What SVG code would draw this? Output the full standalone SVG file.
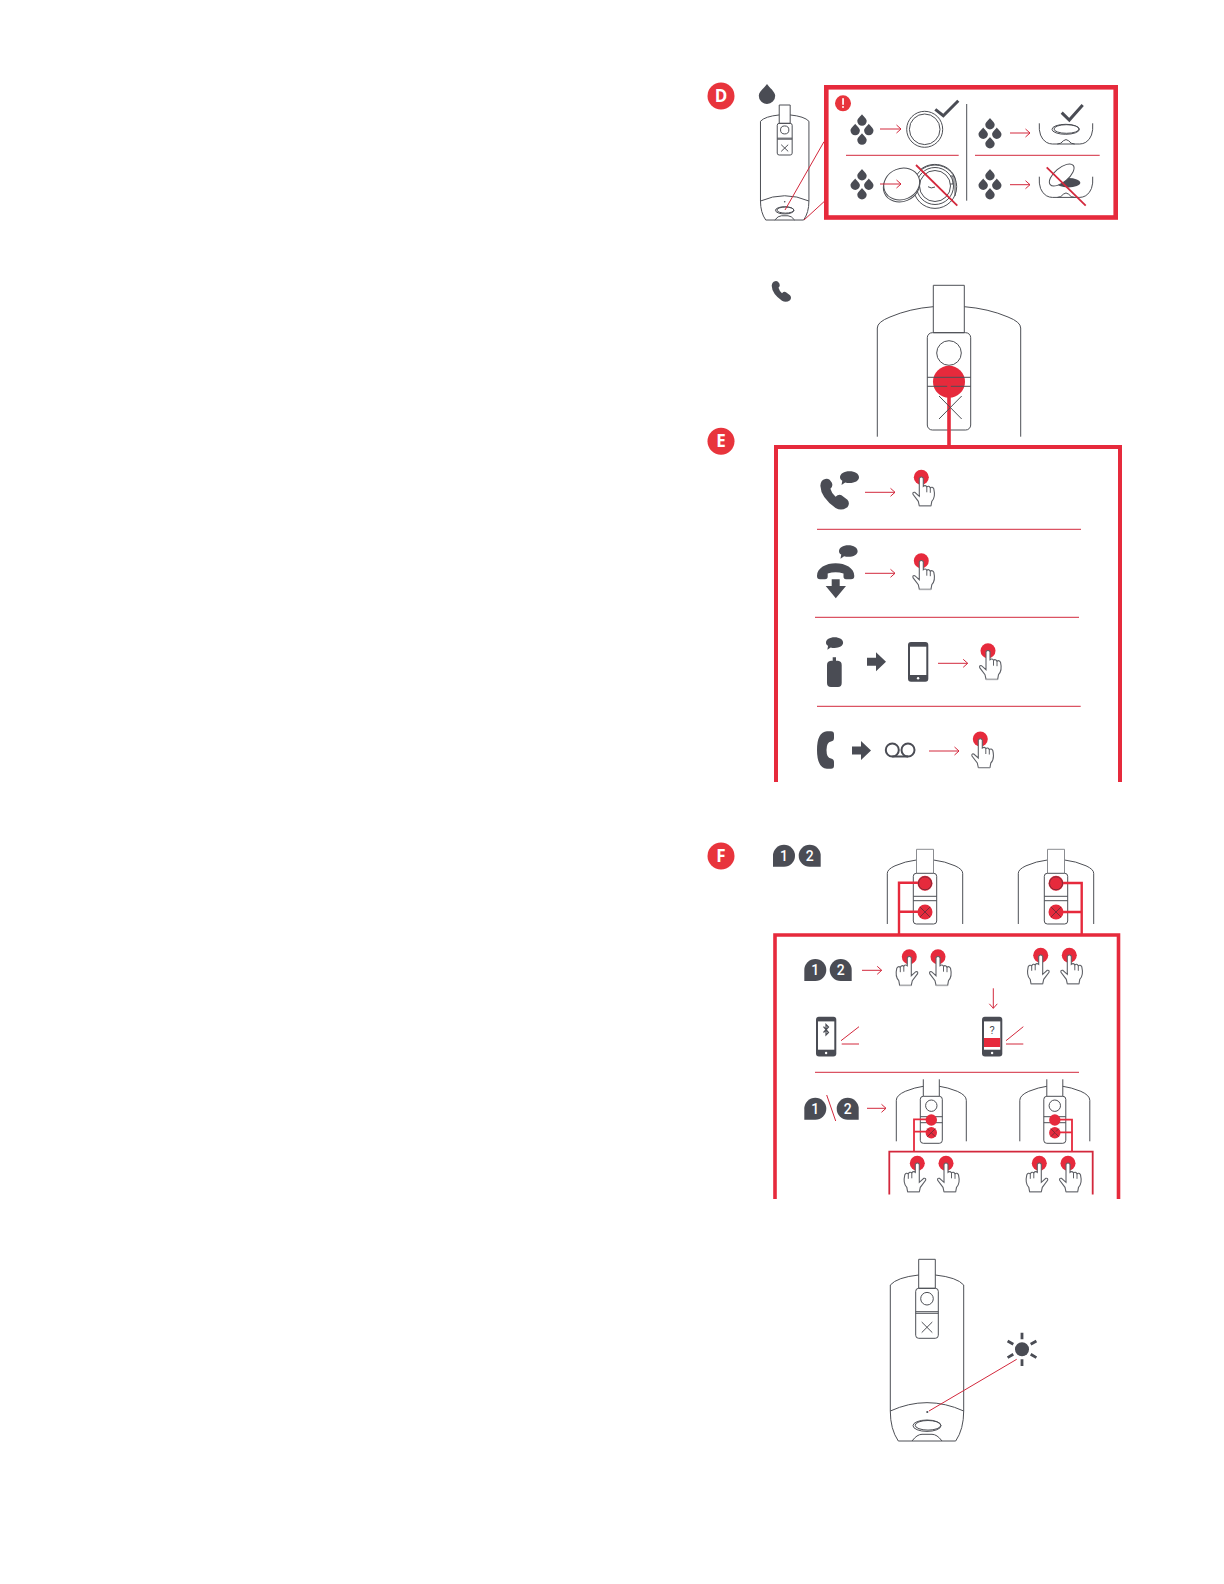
<svg xmlns="http://www.w3.org/2000/svg" width="1224" height="1584" viewBox="0 0 1224 1584">
<style>
.ln{fill:none;stroke:#4d4f55;stroke-width:1;vector-effect:non-scaling-stroke}
.xr{fill:none;stroke:#7c2a38;stroke-width:1;vector-effect:non-scaling-stroke}
.df{fill:#4a4c54}
.rf{fill:#e62a3c}
.box{fill:none;stroke:#e62a3c;stroke-width:4}
.rl{fill:none;stroke:#d3283c;stroke-width:1}
.arr{fill:none;stroke:#d3283c;stroke-width:1;marker-end:url(#ah)}
.cross{fill:none;stroke:#d3283c;stroke-width:1.8}
.conn{fill:none;stroke:#e62a3c;stroke-width:2.4}
.bdg{fill:#e8343c}
.bt{font-family:"Open Sans","Liberation Sans",sans-serif;font-weight:700;font-size:17px;fill:#fff;text-anchor:middle}
.nt{font-family:Roboto,"Liberation Sans",sans-serif;font-weight:500;font-size:14px;fill:#fff;text-anchor:middle}
.wh{fill:#fff}
</style>
<defs>
<marker id="ah" viewBox="-6 -5 7 10" refX="0" refY="0" markerWidth="7" markerHeight="10" markerUnits="userSpaceOnUse" orient="auto"><path d="M-4.5 -4 L0 0 L-4.5 4" fill="none" stroke="#d3283c" stroke-width="1"/></marker>
<path id="drop" d="M0 -5.5C1.2 -3.5 4.7 -1.200 4.700 1.300A4.700 4.700 0 0 1 -4.700 1.300C-4.700 -1.200 -1.200 -3.500 0 -5.500Z"/>
<g id="drops" class="df"><use href="#drop" x="0" y="-9.500"/><use href="#drop" x="-6.800" y="0"/><use href="#drop" x="6.800" y="0"/><use href="#drop" x="0" y="9.500"/></g>
<path id="handset" d="M4 .5Q1 1 .7 5Q1 13 11 20Q15 22.500 19 19.500Q21 17 19 14.500L15 11.500Q13 10.500 11 12.500Q8.500 10.500 7.500 7Q9.500 5.500 8.500 3L7 1Q5.500 0 4 .5Z"/>
<path id="bubble" d="M9.500 0C15 0 19 2.600 19 6C19 9.400 15 11.800 9.500 11.800C8 11.800 6.500 11.600 5.200 11.200L1.500 13.700L2.300 9.500C.8 8.600 0 7.400 0 6C0 2.600 4 0 9.500 0Z"/>
<path id="block" d="M0 5.500H9V0L19 9.500L9 19V13.500H0Z"/>
<g id="hand"><circle r="7.500" class="rf"/><path d="M-2 28.500L-3 24L-8.300 17Q-9 14.500-6.500 15L-2 19V1Q0-1.500 2 1V9Q4 7.500 5.500 9.500Q7.500 8 9 10.500Q11 9 12.500 11.500Q14.500 20 10.500 24L9.700 28.500Z" fill="#fff" stroke="#5e6066" stroke-width="1.100"/><path d="M5.500 9.500V15M9 10.500V15.500" fill="none" stroke="#5e6066" stroke-width="1"/><path d="M-2 29H9.700" stroke="#b4b5b8" stroke-width="1" fill="none"/></g>
<g id="phone"><rect width="20.300" height="39.700" rx="3" class="df"/><rect x="2" y="4.700" width="16.300" height="28.300" class="wh"/><circle cx="10.100" cy="36.300" r="1.200" class="wh"/></g>
<g id="fulldev">
<path class="ln" d="M-8.300 15.700Q-30 18-36.700 25.700V151.700Q-36.700 170-28.700 181.700H28.700Q36.700 170 36.700 151.700V25.700Q30 18 8.300 15.700"/>
<rect class="ln" x="-8.300" y="0" width="16.600" height="29"/>
<rect class="ln" x="-11.300" y="29" width="22.600" height="50" rx="3"/>
<path class="ln" d="M-11.300 52.400H11.300M-11.300 54H11.300"/>
<circle class="ln" cy="39.400" r="6.300"/>
<path class="ln" d="M-5.300 62.700L5.300 73.300M5.300 62.700L-5.300 73.300"/>
<path class="ln" d="M-36.700 151.700Q0 135 36.700 151.700"/>
<ellipse class="ln" cy="166.400" rx="14" ry="5.700"/>
<ellipse class="ln" cx="1" cy="166" rx="12.800" ry="4.800"/>
<path class="ln" d="M-15 181.700Q-10 175-5 175H5Q10 175 15 181.700"/>
</g>
<g id="devf">
<path class="ln" d="M-37.700 74.700V24Q-37.700 20-30 16.500Q-20 12-8.500 10.700M8.500 10.700Q20 12 30 16.500Q37.700 20 37.700 24V74.700"/>
<path class="ln" d="M-8.500 24V0H8.500V24" style="stroke:#8a8c90"/>
<rect class="ln" x="-11.700" y="24" width="23.400" height="50.700" rx="3"/>
<path class="ln" d="M-11.700 47H11.700M-11.700 51.400H11.700"/>
<circle class="rf" cy="34" r="7.500"/><circle class="rf" cy="62.700" r="7.500"/>
<circle class="xr" cy="34" r="6.500"/>
<path class="xr" d="M-5 57.700L5 67.700M5 57.700L-5 67.700"/>
</g>
<g id="devg">
<path class="ln" d="M-35 62V21Q-35 16-26 12Q-16 8-8 7M8 7Q16 8 26 12Q35 16 35 21V62"/>
<path class="ln" d="M-8 17V0M8 17V0"/>
<rect class="ln" x="-11" y="17" width="22" height="47" rx="3"/>
<circle class="ln" cy="26.400" r="5.700"/>
<path class="ln" d="M-11 37.400H11M-11 43.400H11"/>
<circle class="rf" cy="40.700" r="5.700"/><circle class="rf" cy="53.400" r="5.700"/>
<path class="xr" d="M-4 49.400L4 57.400M4 49.400L-4 57.400"/>
</g>
<g id="dish">
<path class="ln" d="M0 0Q-1 14 7 19Q10 20.700 13 20.700H40.500Q43.500 20.700 46.500 19Q54.400 14 53.400 0"/>
<path class="ln" d="M18 20.700Q22 20.700 24 17.500Q26.700 15 29.400 17.500Q31.400 20.700 35.400 20.700"/>
</g>
<g id="badge1"><path class="df" d="M11 0A11 11 0 0 1 11 22H0V11A11 11 0 0 1 11 0Z"/><text x="11" y="16" class="nt">1</text></g>
<g id="badge2"><path class="df" d="M11 0A11 11 0 0 0 11 22H22V11A11 11 0 0 0 11 0Z"/><text x="11" y="16" class="nt">2</text></g>
</defs>
<rect width="1224" height="1584" fill="#fff"/>

<g id="section-d">
<g id="badge-d"><circle cx="721" cy="96" r="13.500" class="bdg"/><text x="721" y="102" class="bt">D</text></g>
<g id="drop-d"><use href="#drop" class="df" transform="translate(767 93.500) scale(1.750)"/></g>
<g id="device-d"><use href="#fulldev" transform="translate(784.700 105) scale(.66 .633)"/><circle cx="784.700" cy="201.700" r=".8" class="df"/></g>
<rect id="box-d" x="826.300" y="87.300" width="289.400" height="130.200" fill="none" stroke="#e62a3c" stroke-width="4.600"/>
<g id="alert"><circle cx="843" cy="103.300" r="8" class="bdg"/><rect x="842.200" y="98.200" width="1.700" height="6.600" class="wh"/><circle cx="843" cy="107" r="1" class="wh"/></g>
<path id="divider" d="M966.700 104V200.700" fill="none" stroke="#4d4f55" stroke-width="1"/>
<path id="seps-d" class="rl" d="M846 155.300H958.700M975 155.300H1099.700"/>
<g id="ok-ring"><use href="#drops" x="862" y="129.300"/><circle cx="924.700" cy="129.300" r="18" class="ln"/><circle cx="924.700" cy="129.300" r="15.300" class="ln"/><path d="M935.300 109.300L943.300 115.700L958.300 100.700" fill="none" stroke="#4a4c54" stroke-width="3"/></g>
<g id="ok-dish"><use href="#drops" x="990" y="133"/><use href="#dish" transform="translate(1039.300 123.300)"/><ellipse cx="1065.700" cy="129.300" rx="13.700" ry="5" class="ln"/><ellipse cx="1066.500" cy="129" rx="12.500" ry="4.300" class="ln"/><path d="M1061.700 112.700L1069.300 120L1082.700 105" fill="none" stroke="#4a4c54" stroke-width="3"/></g>
<g id="no-ring"><use href="#drops" x="862" y="184"/><circle cx="935" cy="186.700" r="21.700" class="ln"/><path class="ln" d="M920 170A21 19 0 0 1 955 178M955 178V196"/><circle cx="935" cy="186" r="18.500" class="ln"/><circle cx="935" cy="186" r="15.500" class="ln"/><path class="ln" d="M928 186.700Q931 189 935 187"/><path class="ln" d="M950 176H953V184H950"/><ellipse cx="901.500" cy="186" rx="18.500" ry="15.500" transform="rotate(-22 901.500 186)" fill="#fff" stroke="#4d4f55" stroke-width="1"/><ellipse cx="901.700" cy="184" rx="18.300" ry="15.500" transform="rotate(-22 901.700 184)" fill="#fff" stroke="#4d4f55" stroke-width="1"/><path class="cross" d="M916 165L957.300 205.700"/></g>
<g id="no-dish"><use href="#drops" x="990" y="184"/><use href="#dish" transform="translate(1039.300 176.700)"/><ellipse cx="1068.300" cy="182.700" rx="12" ry="4.700" class="df"/><ellipse cx="1061.700" cy="175" rx="15" ry="7" transform="rotate(-40 1061.700 175)" fill="#fff" stroke="#4d4f55" stroke-width="1"/><path class="cross" d="M1046.700 167.300L1085.700 205.700"/></g>
</g>

<g id="section-e">
<g id="badge-e"><circle cx="721" cy="441.300" r="13.500" class="bdg"/><text x="721" y="447.400" class="bt">E</text></g>
<g id="phone-e"><use href="#handset" class="df" x="771" y="280.700"/></g>
<g id="device-e">
<path class="ln" d="M877.300 436.700V328Q877.300 322 890 317Q910 308.500 933.300 306.700M964.300 306.700Q988 308.500 1008 317Q1020.700 322 1020.700 328V436.700"/>
<rect class="ln" x="933.300" y="285.300" width="31" height="47.400"/>
<rect class="ln" x="927.300" y="332.700" width="43.400" height="97.300" rx="5"/>
<circle class="ln" cx="949" cy="353" r="12.300"/>
<circle class="rf" cx="949" cy="381.700" r="16"/>
<path class="ln" d="M927.300 377.300H970.700M927.300 386.300H970.700"/>
</g>
<path id="box-e" class="box" d="M776 782V447H1120V782"/>
<g id="row-incoming"><use href="#handset" class="df" transform="translate(819.300 478.300) scale(1.480)"/><use href="#bubble" class="df" x="840" y="471.300"/><use href="#hand" x="921.300" y="477.300"/></g>
<path class="rl" d="M817 529.300H1081"/>
<g id="row-hangup"><path class="df" d="M817 576C817 568 826 563.300 835.600 563.300C845.300 563.300 854.300 568 854.300 576Q854.300 579.300 851 579.300H846Q843.500 579.300 843.500 576.500V573.500Q835.600 571 827.700 573.500V576.500Q827.700 579.300 825 579.300H820Q817 579.300 817 576Z"/><path class="df" d="M831.700 579.300H839.700V586H846L835.800 598.300L825.700 586H831.700Z"/><use href="#bubble" class="df" transform="translate(839 545.300) scale(.98)"/><use href="#hand" x="921.300" y="560.700"/></g>
<path class="rl" d="M815 617.300H1079"/>
<g id="row-transfer"><use href="#bubble" class="df" transform="translate(826 637.300) scale(.9)"/><path class="df" d="M832.700 660.700V657.300H836V660.700H838Q841.700 661 841.700 665V683Q841.700 687 838 687H831Q827 687 827 683V665Q827 661 831 660.700Z"/><use href="#block" class="df" x="867" y="652.300"/><use href="#phone" x="908" y="642"/><use href="#hand" x="988" y="650.700"/></g>
<path class="rl" d="M817 706.300H1080.700"/>
<g id="row-voicemail"><path class="df" d="M827 731.300H831Q834 731.300 834 734.500V738Q834 741 831 741.500Q826.500 742 826.500 750Q826.500 758 831 758.500Q834 759 834 762V765.500Q834 768.700 831 768.700H827Q817 768 817 750Q817 732 827 731.300Z"/><use href="#block" class="df" x="852" y="741"/><path d="M892.300 756.500H908" fill="none" stroke="#4a4c54" stroke-width="2"/><circle cx="892.300" cy="750" r="6.500" fill="none" stroke="#4a4c54" stroke-width="2"/><circle cx="908" cy="750" r="6.500" fill="none" stroke="#4a4c54" stroke-width="2"/><use href="#hand" x="980.300" y="739"/></g>
</g>

<g id="section-f">
<g id="badge-f"><circle cx="721" cy="856" r="13.500" class="bdg"/><text x="721" y="862.100" class="bt">F</text></g>
<g id="pair-top"><use href="#badge1" x="773" y="844.700"/><use href="#badge2" x="798.700" y="844.700"/></g>
<g id="device-f1"><use href="#devf" transform="translate(925 849.300)"/></g>
<g id="device-f2"><use href="#devf" transform="translate(1056 849.300)"/></g>
<path id="box-f" class="box" style="stroke-width:3.600" d="M775 1199V935H1118.500V1199"/>
<g id="pair-a"><use href="#badge1" x="804.300" y="959"/><use href="#badge2" x="829.700" y="959"/></g>
<g id="hands-a"><use href="#hand" transform="translate(909.300 956.700) scale(-1 1)"/><use href="#hand" x="938" y="956.700"/></g>
<g id="hands-b"><use href="#hand" transform="translate(1040.700 955.300) scale(-1 1)"/><use href="#hand" x="1069.300" y="955.300"/></g>
<g id="phone-bt"><use href="#phone" x="816" y="1016.700"/><path d="M823.500 1026.700L828.500 1032.500L826 1035V1024.500L828.500 1027L823.500 1032.500" fill="none" stroke="#4a4c54" stroke-width="1.200"/></g>
<g id="phone-q"><use href="#phone" x="982" y="1016.700"/><text x="992.100" y="1033.500" font-family="Roboto,'Liberation Sans',sans-serif" font-size="11" fill="#4a4c54" text-anchor="middle">?</text><rect x="984" y="1038" width="16.200" height="9" class="rf"/></g>
<path class="rl" d="M815 1072.300H1079"/>
<g id="pair-c"><use href="#badge1" x="804.300" y="1097.700"/><use href="#badge2" x="836.700" y="1097.700"/><path class="rl" d="M826.700 1095L835.700 1121"/></g>
<g id="device-g1"><use href="#devg" transform="translate(931.300 1079.300)"/></g>
<g id="device-g2"><use href="#devg" transform="translate(1054.800 1079.300)"/></g>
<path id="box-g" fill="none" stroke="#d3283c" stroke-width="1.800" d="M889.300 1194.500V1151.700H1092.700V1194.500"/>
<g id="hands-c"><use href="#hand" transform="translate(917.300 1163.300) scale(-1 1)"/><use href="#hand" x="946" y="1163.300"/></g>
<g id="hands-d"><use href="#hand" transform="translate(1039.300 1163.300) scale(-1 1)"/><use href="#hand" x="1068" y="1163.300"/></g>
</g>

<g id="section-light">
<g id="device-light"><use href="#fulldev" transform="translate(927 1259.300)"/><circle cx="927.300" cy="1412" r="1.100" class="df"/></g>
<g id="sun"><circle cx="1022" cy="1349.300" r="7" class="df"/><path d="M1022 1332.700V1339.300M1022 1359.300V1365.900M1007.600 1341L1013.300 1344.300M1030.700 1354.300L1036.400 1357.600M1007.600 1357.600L1013.300 1354.300M1030.700 1344.300L1036.400 1341" fill="none" stroke="#4a4c54" stroke-width="2.800"/></g>
</g>

<g id="connectors">
<path class="rl" d="M785 210L824 141.700M804 220L824 201.700"/>
<path class="arr" d="M880 129H901"/><path class="arr" d="M1010 133H1030"/><path class="arr" d="M880 184H901"/><path class="arr" d="M1010 184.700H1030"/>
<path class="conn" style="stroke-width:3.600" d="M949 381.700V447"/>
<path class="arr" d="M865 492.300H895"/><path class="arr" d="M865 573.300H895"/><path class="arr" d="M938 663.300H967.700"/><path class="arr" d="M929 751H959"/>
<path class="conn" d="M918 882.700H899V935M918 911.700H899"/>
<path class="conn" d="M1063 883H1081.700V935M1063 912H1081.700"/>
<path class="arr" d="M862 970.300H881.700"/><path class="arr" d="M993.300 988.300V1008.300"/>
<path class="rl" d="M841 1040.700L859 1026.700M841.700 1044H859M1006 1040.700L1023.300 1026.700M1006 1044H1023.300"/>
<path class="arr" d="M867 1108.300H886"/>
<path class="conn" style="stroke-width:1.800" d="M931 1119.300H914V1151.700M931 1131.700H914"/>
<path class="conn" style="stroke-width:1.800" d="M1050 1119.700H1072V1151.700M1055 1132.300H1072"/>
<path class="rl" d="M929 1411L1016.700 1359.300"/>
</g>
<path id="x-e" class="ln" d="M939 396L961.700 419M961.700 396L939 419"/>
</svg>
